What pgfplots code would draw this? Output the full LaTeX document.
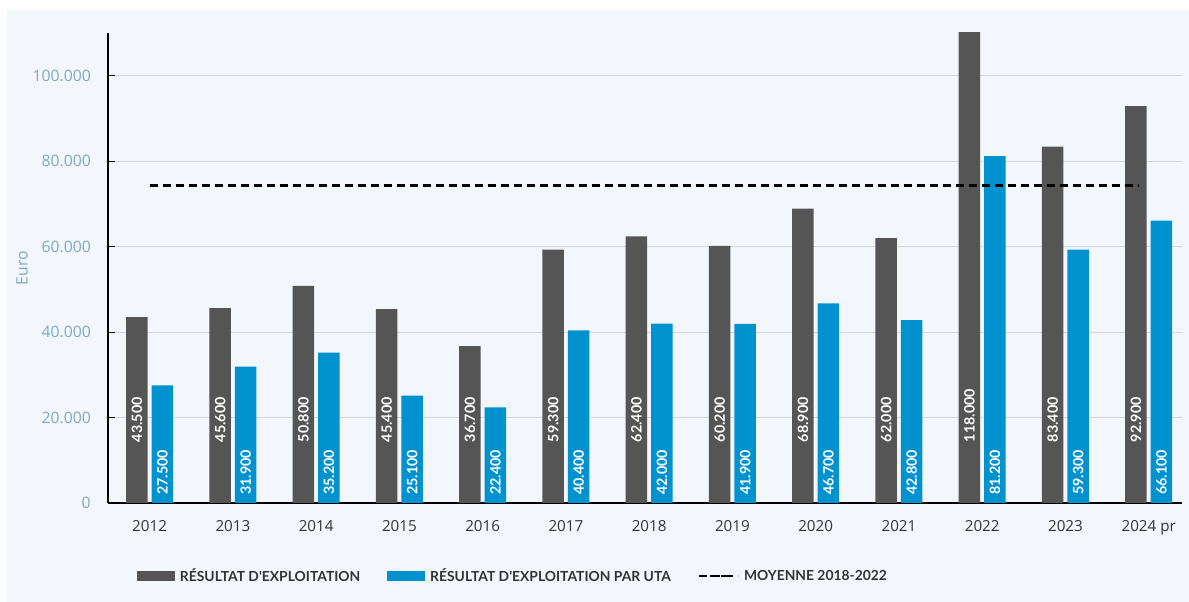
\documentclass[border=0pt]{standalone}
\usepackage{fontspec}
\setmainfont{Open Sans}
\newfontfamily\lato{Lato}
\usepackage{pgfplots}
\pgfplotsset{compat=1.18}

\definecolor{bargrey}{HTML}{555555}
\definecolor{barblue}{HTML}{0092CF}
\definecolor{tickblue}{HTML}{7DAAC4}
\definecolor{panel}{HTML}{F3F7FB}
\definecolor{gridc}{HTML}{D3D7DB}
\definecolor{txt}{HTML}{333333}

\begin{document}
\begin{tikzpicture}
\fill[white] (0,0) rectangle (891.75pt,451.5pt);
\fill[panel] (5.25pt,0) rectangle (891.75pt,444pt);
\begin{axis}[
  at={(81pt,74.25pt)}, anchor=south west,
  scale only axis, width=805.5pt, height=352.5pt,
  xmin=-0.5, xmax=12.4, ymin=0, ymax=110000,
  scaled y ticks=false,
  axis x line*=bottom, axis y line*=left,
  axis line style={line width=0.8pt, black, -},
  xtick={0,...,12},
  xticklabels={2012,2013,2014,2015,2016,2017,2018,2019,2020,2021,2022,2023,2024 pr},
  xtick style={draw=none},
  ytick={0,20000,40000,60000,80000,100000},
  yticklabels={0,20.000,40.000,60.000,80.000,100.000},
  ytick style={black, line width=0.6pt},
  tick align=inside, major tick length=5pt,
  ymajorgrids, grid style={gridc, line width=0.8pt},
  yticklabel style={font=\fontsize{11.8}{14}\selectfont, text=tickblue, inner sep=0pt, anchor=east, xshift=-12.75pt},
  xticklabel style={font=\fontsize{11.4}{13}\selectfont, text=txt, inner sep=0pt, anchor=north, yshift=-13pt},
  ylabel={Euro},
  ylabel style={font=\fontsize{11.8}{14}\selectfont, text=tickblue, at={(axis description cs:-0.08,0.5)}, rotate=0, anchor=center},
  legend columns=3,
  legend style={at={(axis description cs:0.027,-0.1553)}, anchor=west, draw=none, fill=none,
    inner sep=0pt, outer sep=0pt,
    font=\lato\bfseries\fontsize{10.4}{12}\selectfont, text=txt,
    nodes={inner sep=0pt},
    /tikz/every odd column/.append style={column sep=3.75pt},
    /tikz/every even column/.append style={column sep=20.25pt}},
  legend cell align=left,
]
\addplot[ybar, fill=bargrey, draw=none, bar width=16.1pt, bar shift=-9.56pt,
  legend image code/.code={\fill[bargrey] (0pt,-3.4pt) rectangle (28.5pt,3.4pt);}]
  coordinates {(0,43500) (1,45600) (2,50800) (3,45400) (4,36700) (5,59300) (6,62400)
               (7,60200) (8,68900) (9,62000) (10,118000) (11,83400) (12,92900)};
\addlegendentry{RÉSULTAT D'EXPLOITATION}
\addplot[ybar, fill=barblue, draw=none, bar width=16.1pt, bar shift=9.56pt,
  legend image code/.code={\fill[barblue] (0pt,-3.4pt) rectangle (28.5pt,3.4pt);}]
  coordinates {(0,27500) (1,31900) (2,35200) (3,25100) (4,22400) (5,40400) (6,42000)
               (7,41900) (8,46700) (9,42800) (10,81200) (11,59300) (12,66100)};
\addlegendentry{RÉSULTAT D'EXPLOITATION PAR UTA}
% value labels
\addplot[draw=none, forget plot, nodes near coords, point meta=explicit symbolic,
  every node near coord/.style={xshift=-9.56pt, rotate=90, anchor=west, inner sep=0pt,
    text=white, font=\lato\bfseries\fontsize{10.7}{12}\selectfont}]
  coordinates {(0,14200)[43.500] (1,14200)[45.600] (2,14200)[50.800] (3,14200)[45.400]
               (4,14200)[36.700] (5,14200)[59.300] (6,14200)[62.400] (7,14200)[60.200]
               (8,14200)[68.900] (9,14200)[62.000] (10,14200)[118.000] (11,14200)[83.400]
               (12,14200)[92.900]};
\addplot[draw=none, forget plot, nodes near coords, point meta=explicit symbolic,
  every node near coord/.style={xshift=9.56pt, rotate=90, anchor=west, inner sep=0pt,
    text=white, font=\lato\bfseries\fontsize{10.7}{12}\selectfont}]
  coordinates {(0,1900)[27.500] (1,1900)[31.900] (2,1900)[35.200] (3,1900)[25.100]
               (4,1900)[22.400] (5,1900)[40.400] (6,1900)[42.000] (7,1900)[41.900]
               (8,1900)[46.700] (9,1900)[42.800] (10,1900)[81.200] (11,1900)[59.300]
               (12,1900)[66.100]};
\addplot[black, line width=1.6pt, dash pattern=on 6pt off 3.75pt,
  legend image code/.code={\draw[black, line width=1.6pt, dash pattern=on 4.5pt off 3.75pt] (0pt,0pt) -- (21pt,0pt); \path (0pt,0pt) -- (29.25pt,0pt);}]
  coordinates {(0,74300) (11.87,74300)};
\addlegendentry{MOYENNE 2018-2022}
\end{axis}
\pgfresetboundingbox
\path (0,0) rectangle (891.75pt,451.5pt);
\end{tikzpicture}
\end{document}
